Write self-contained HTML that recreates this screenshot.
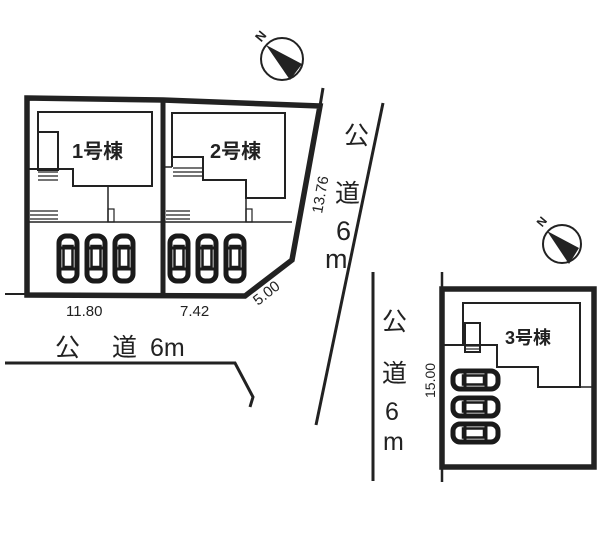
<!DOCTYPE html>
<html><head><meta charset="utf-8"><style>
html,body{margin:0;padding:0;background:#fff;}
svg{display:block;}
text{font-family:"Liberation Sans","Noto Sans CJK JP",sans-serif;fill:#222;}
</style></head><body>
<svg width="600" height="542" viewBox="0 0 600 542" xmlns="http://www.w3.org/2000/svg">
<defs>
<g id="carv">
<rect x="-9" y="-22" width="18" height="45" rx="7" fill="#fff" stroke="#1a1a1a" stroke-width="5"/>
<rect x="-4.5" y="-12" width="9" height="21" fill="none" stroke="#1a1a1a" stroke-width="2.5"/>
<line x1="-11" y1="-10" x2="11" y2="-10" stroke="#1a1a1a" stroke-width="3"/>
<line x1="-11" y1="11" x2="11" y2="11" stroke="#1a1a1a" stroke-width="3"/>
</g>
<g id="carh">
<rect x="-22" y="-9" width="45" height="18" rx="7" fill="#fff" stroke="#1a1a1a" stroke-width="5"/>
<rect x="-12" y="-4.5" width="21" height="9" fill="none" stroke="#1a1a1a" stroke-width="2.5"/>
<line x1="-10" y1="-11" x2="-10" y2="11" stroke="#1a1a1a" stroke-width="3"/>
<line x1="11" y1="-11" x2="11" y2="11" stroke="#1a1a1a" stroke-width="3"/>
</g>
</defs>
<g stroke="#222" fill="none">
<polygon points="27,98 163,100 320,106 292,260 245,296 27,295" stroke-width="5.5"/>
<line x1="163" y1="100" x2="163" y2="295" stroke-width="5"/>
<line x1="320" y1="106" x2="323" y2="88" stroke-width="3"/>
<line x1="5" y1="294" x2="27" y2="294" stroke-width="2"/>
<g stroke-width="2">
<polyline points="38,169 38,112 152,112 152,186 73,186 73,169 27,169"/>
<rect x="38" y="132" width="20" height="38"/>
<line x1="27" y1="222" x2="292" y2="222" stroke-width="1.5"/>
<line x1="108" y1="186" x2="108" y2="222" stroke-width="1.5"/>
<polyline points="172,167 172,113 285,113 285,198 246,198 246,180 203,180 203,157 172,157"/>
<line x1="163" y1="167" x2="172" y2="167" stroke-width="1.5"/>
<line x1="246" y1="198" x2="246" y2="222" stroke-width="1.5"/>
</g>
<g stroke-width="1.2">
<line x1="38" y1="172" x2="58" y2="172"/><line x1="38" y1="176" x2="58" y2="176"/><line x1="38" y1="180" x2="58" y2="180"/>
<line x1="30" y1="211" x2="58" y2="211"/><line x1="30" y1="215" x2="58" y2="215"/><line x1="30" y1="219" x2="58" y2="219"/>
<line x1="173" y1="168" x2="203" y2="168"/><line x1="173" y1="172" x2="203" y2="172"/><line x1="173" y1="176" x2="203" y2="176"/>
<line x1="166" y1="211" x2="190" y2="211"/><line x1="166" y1="215" x2="190" y2="215"/><line x1="166" y1="219" x2="190" y2="219"/>
<rect x="108" y="209" width="6" height="13"/><rect x="246" y="209" width="6" height="13"/>
</g>
<line x1="383" y1="103" x2="316" y2="425" stroke-width="3"/>
<polyline points="5,363 235,363 253,397 250,407" stroke-width="3"/>
<line x1="373" y1="272" x2="373" y2="481" stroke-width="3"/>
<rect x="442" y="289" width="152" height="178" stroke-width="5.5"/>
<line x1="442" y1="272" x2="442" y2="482" stroke-width="2.5"/>
<polyline points="463,345 463,303 580,303 580,387 538,387 538,367 497,367 497,345 442,345" stroke-width="2"/>
<line x1="580" y1="387" x2="594" y2="387" stroke-width="1.5"/>
<rect x="465" y="323" width="15" height="29" stroke-width="2"/>
<line x1="466" y1="346" x2="479" y2="346" stroke-width="1.2"/>
<line x1="466" y1="349" x2="479" y2="349" stroke-width="1.2"/>
<circle cx="282" cy="59" r="21" stroke-width="2"/>
<circle cx="562" cy="244" r="19" stroke-width="2"/>
</g>
<polygon points="266,45 302,64 290,80" fill="#222"/>
<polygon points="547,231 579,248 569,264" fill="#222"/>
<use href="#carv" x="68" y="258"/><use href="#carv" x="96" y="258"/><use href="#carv" x="124" y="258"/>
<use href="#carv" x="179" y="258"/><use href="#carv" x="207" y="258"/><use href="#carv" x="235" y="258"/>
<use href="#carh" x="475" y="380"/><use href="#carh" x="475" y="407"/><use href="#carh" x="475" y="433"/>
<text x="258" y="44" font-size="13" font-weight="bold" transform="rotate(-50 258 40)">N</text>
<text x="539" y="229" font-size="12" font-weight="bold" transform="rotate(-50 539 225)">N</text>
<text x="72" y="158" font-size="20" font-weight="bold">1号棟</text>
<text x="210" y="158" font-size="20" font-weight="bold">2号棟</text>
<text x="505" y="344" font-size="18" font-weight="bold">3号棟</text>
<text x="66" y="316" font-size="15">11.80</text>
<text x="180" y="316" font-size="15">7.42</text>
<text x="258" y="306" font-size="15" transform="rotate(-38 258 306)">5.00</text>
<text x="322" y="214" font-size="15" transform="rotate(-80 322 214)">13.76</text>
<text x="435" y="398" font-size="14" transform="rotate(-90 435 398)">15.00</text>
<text x="55" y="356" font-size="25">公</text>
<text x="112" y="356" font-size="25">道</text>
<text x="150" y="356" font-size="25">6m</text>
<text x="344" y="144" font-size="25">公</text>
<text x="335" y="202" font-size="25">道</text>
<text x="336" y="240" font-size="27">6</text>
<text x="325" y="268" font-size="27">m</text>
<text x="382" y="330" font-size="25">公</text>
<text x="382" y="382" font-size="25">道</text>
<text x="385" y="420" font-size="25">6</text>
<text x="383" y="450" font-size="25">m</text>
</svg>
</body></html>
